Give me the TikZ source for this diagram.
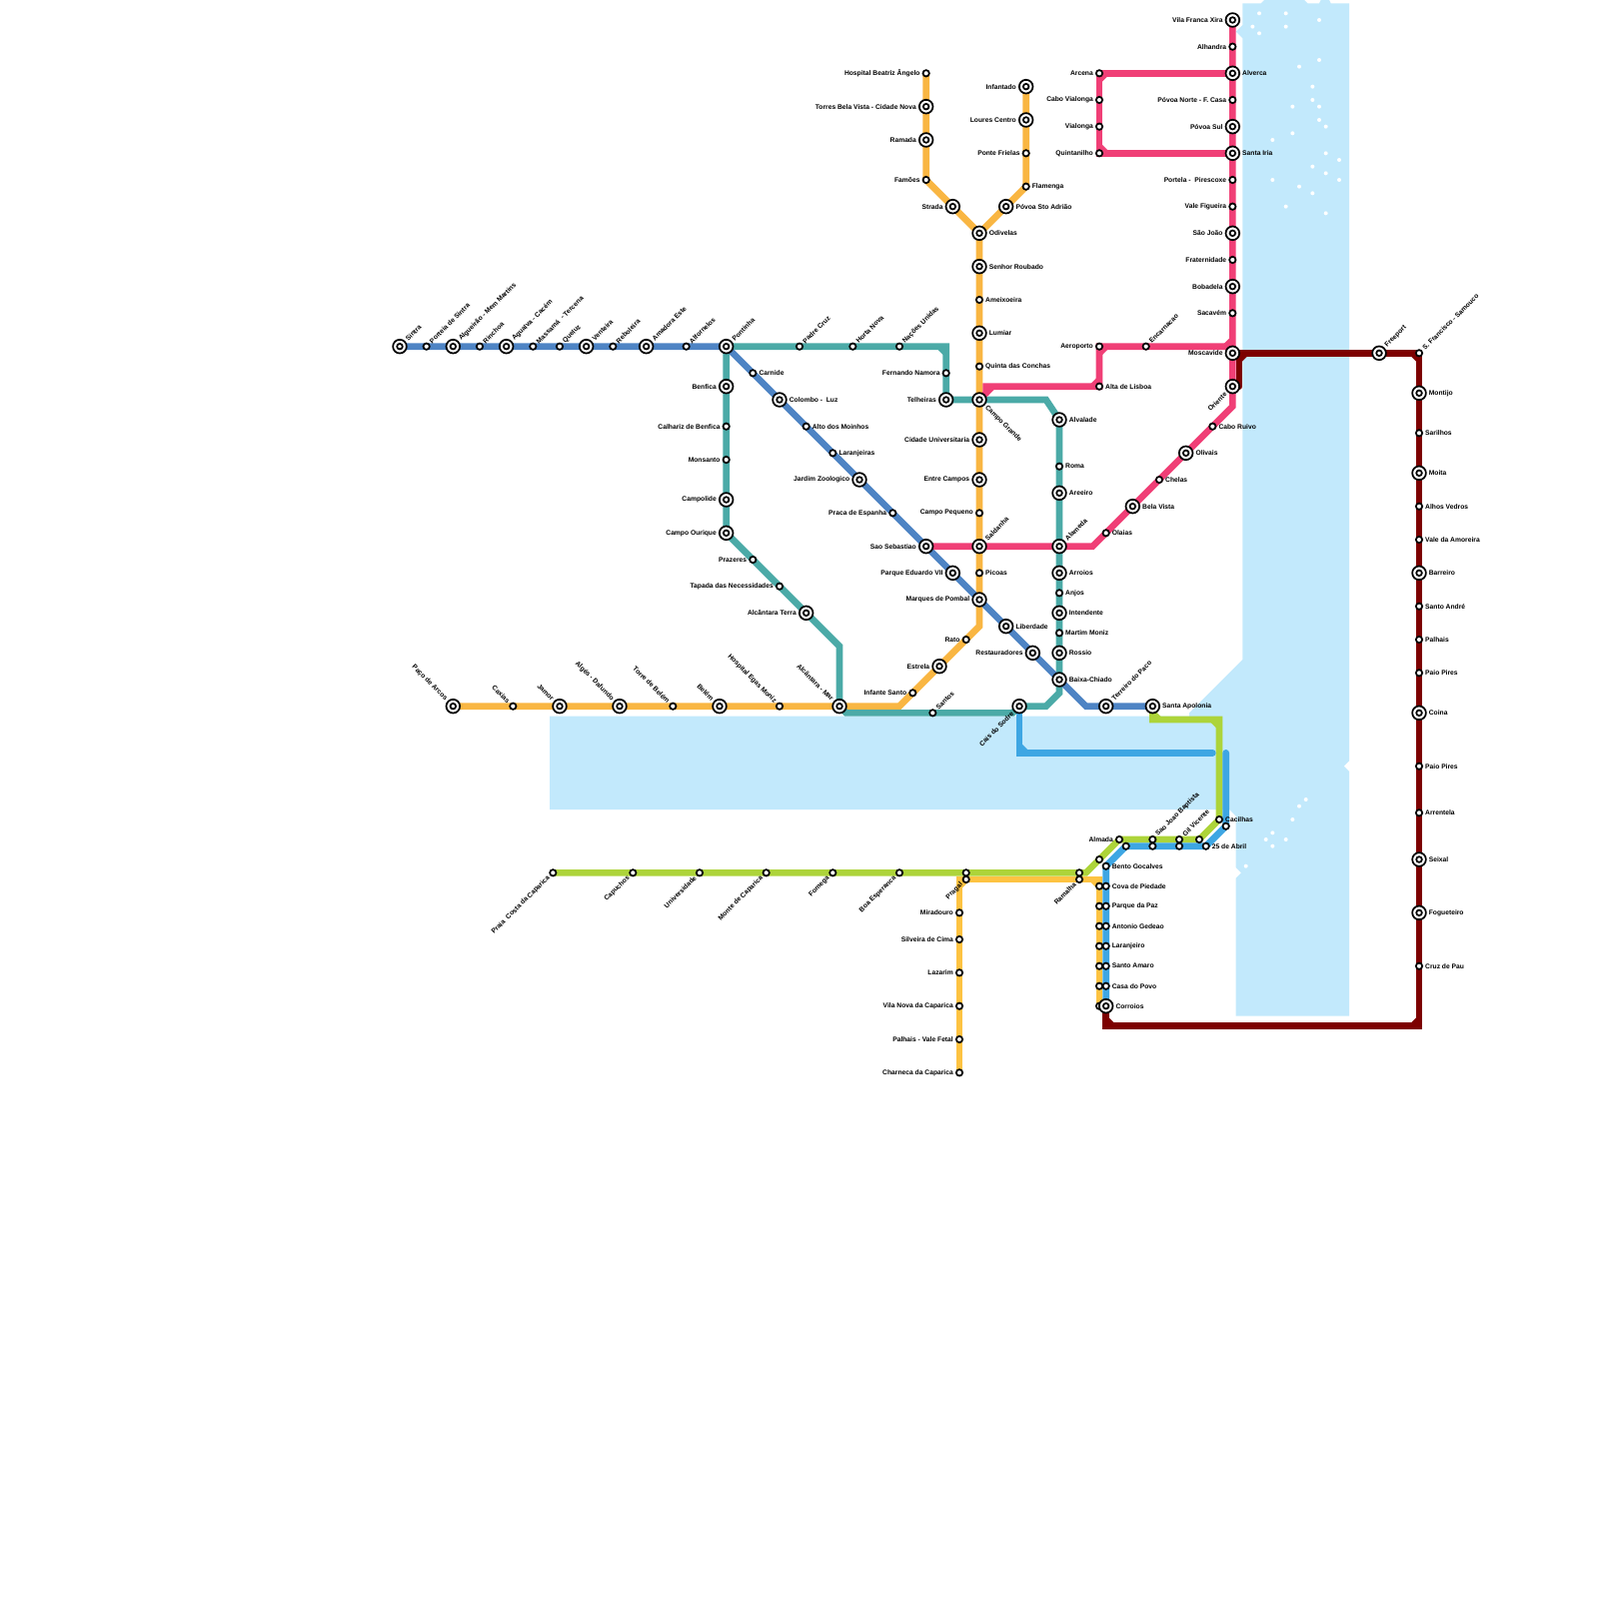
\documentclass[tikz,border=0pt]{standalone}
\usepackage{fontspec}
\setmainfont{Liberation Sans}
\usetikzlibrary{backgrounds}
\definecolor{waterblue}{HTML}{C2E9FC}
\definecolor{lineyellow}{HTML}{F9B642}
\definecolor{lineyellowb}{HTML}{FDC342}
\definecolor{lineteal}{HTML}{4BAAA7}
\definecolor{lineblue}{HTML}{4E84C4}
\definecolor{linepink}{HTML}{F03F76}
\definecolor{linelime}{HTML}{ADD43A}
\definecolor{linesky}{HTML}{3EA6E3}
\definecolor{linered}{HTML}{7D0000}
\tikzset{
  stn/.style={circle,draw=black,fill=white,line width=.26mm,minimum size=.95mm,inner sep=0pt},
  hub/.style={circle,draw=black,fill=white,line width=.26mm,minimum size=2.05mm,inner sep=0pt,
    path picture={\draw[black,line width=.26mm] (path picture bounding box.center) circle (.42mm);}},
  lbl/.style={font=\bfseries\fontsize{2.87}{3.4}\selectfont,inner sep=.25mm,text=black},
  txte/.style={label={[lbl,anchor=west]0:#1}},
  txtw/.style={label={[lbl,anchor=east]180:#1}},
  txtne/.style={label={[lbl,rotate=45,anchor=west]45:#1}},
  txtnw/.style={label={[lbl,rotate=-45,anchor=east]135:#1}},
  txtse/.style={label={[lbl,rotate=-45,anchor=west]-45:#1}},
  txtsw/.style={label={[lbl,rotate=45,anchor=east]225:#1}},
  route/.style={line width=1mm,line join=miter,line cap=round},
}
\begin{document}
\begin{tikzpicture}[x=1mm,y=-1mm]
  \useasboundingbox (0,0) rectangle (240,240);

  % Stations with their label to the right
  \foreach \nm/\st/\x/\y/\txt in {
    carnide/stn/113/56/Carnide, colombo/hub/117/60/{Colombo -\ \ Luz}, moinhos/stn/121/64/Alto dos Moinhos,
    laranjeiras/stn/125/68/Laranjeiras, liberdade/hub/151/94/Liberdade, baixa/hub/159/102/Baixa-Chiado,
    apolonia/hub/173/106/Santa Apolonia, conchas/stn/147/55/Quinta das Conchas, lumiar/hub/147/50/Lumiar,
    ameixoeira/stn/147/45/Ameixoeira, senhor/hub/147/40/Senhor Roubado, odivelas/hub/147/35/Odivelas,
    povoasto/hub/151/31/Póvoa Sto Adrião, flamenga/stn/154/28/Flamenga, picoas/stn/147/86/Picoas,
    alvalade/hub/159/63/Alvalade, roma/stn/159/70/Roma, areeiro/hub/159/74/Areeiro, arroios/hub/159/86/Arroios,
    anjos/stn/159/89/Anjos, intendente/hub/159/92/Intendente, martim/stn/159/95/Martim Moniz, rossio/hub/159/98/Rossio,
    olaias/stn/166/80/Olaias, belavista/hub/170/76/Bela Vista, chelas/stn/174/72/Chelas, olivais/hub/178/68/Olivais,
    caboruivo/stn/182/64/Cabo Ruivo, altalisboa/stn/165/58/Alta de Lisboa, alverca/hub/185/11/Alverca,
    santairia/hub/185/23/Santa Iria, montijo/hub/213/59/Montijo, sarilhos/stn/213/65/Sarilhos, moita/hub/213/71/Moita,
    alhos/stn/213/76/Alhos Vedros, amoreira/stn/213/81/Vale da Amoreira, barreiro/hub/213/86/Barreiro,
    santoandre/stn/213/91/Santo André, palhais/stn/213/96/Palhais, paiopiresa/stn/213/101/Paio Pires, coina/hub/213/107/Coina,
    paiopiresb/stn/213/115/Paio Pires, arrentela/stn/213/122/Arrentela, seixal/hub/213/129/Seixal,
    fogueteiro/hub/213/137/Fogueteiro, cruzpau/stn/213/145/Cruz de Pau, cacilhas/stn/183/123/Cacilhas,
    abril/stn/181/127/25 de Abril, bento/stn/166/130/Bento Gocalves, cova/stn/166/133/Cova de Piedade,
    parquepaz/stn/166/136/Parque da Paz, gedeao/stn/166/139/Antonio Gedeao, laranjeiro/stn/166/142/Laranjeiro,
    amaro/stn/166/145/Santo Amaro, casapovo/stn/166/148/Casa do Povo}
    {\node[\st,txte={\txt}] (\nm) at (\x,\y) {};}

  % Stations with their label to the left
  \foreach \nm/\st/\x/\y/\txt in {
    benfica/hub/109/58/Benfica, calhariz/stn/109/64/Calhariz de Benfica, monsanto/stn/109/69/Monsanto,
    campolide/hub/109/75/Campolide, ourique/hub/109/80/Campo Ourique, prazeres/stn/113/84/Prazeres,
    tapada/stn/117/88/Tapada das Necessidades, alcterra/hub/121/92/Alcântara Terra, jardim/hub/129/72/Jardim Zoologico,
    espanha/stn/134/77/Praca de Espanha, sebastiao/hub/139/82/Sao Sebastiao, eduardo/hub/143/86/Parque Eduardo VII,
    marques/hub/147/90/Marques de Pombal, restauradores/hub/155/98/Restauradores, namora/stn/142/56/Fernando Namora,
    telheiras/hub/142/60/Telheiras, cidadeuni/hub/147/66/Cidade Universitaria, entrecampos/hub/147/72/Entre Campos,
    campopequeno/stn/147/77/Campo Pequeno, rato/stn/145/96/Rato, estrela/hub/141/100/Estrela, infante/stn/137/104/Infante Santo,
    beatriz/stn/139/11/Hospital Beatriz Ângelo, torres/hub/139/16/Torres Bela Vista - Cidade Nova, ramada/hub/139/21/Ramada,
    famoes/stn/139/27/Famões, strada/hub/143/31/Strada, infantado/hub/154/13/Infantado, loures/hub/154/18/Loures Centro,
    frielas/stn/154/23/Ponte Frielas, arcena/stn/165/11/Arcena, cabovial/stn/165/15/Cabo Vialonga, vialonga/stn/165/19/Vialonga,
    quintanilho/stn/165/23/Quintanilho, aeroporto/stn/165/52/Aeroporto, franca/hub/185/3/Vila Franca Xira, alhandra/stn/185/7/Alhandra,
    povoanorte/stn/185/15/Póvoa Norte - F. Casa, povoasul/hub/185/19/Póvoa Sul, portela/stn/185/27/{Portela -\ \ Pirescoxe},
    figueira/stn/185/31/Vale Figueira, saojoao/hub/185/35/São João, fraternidade/stn/185/39/Fraternidade, bobadela/hub/185/43/Bobadela,
    sacavem/stn/185/47/Sacavém, moscavide/hub/185/53/Moscavide, almada/stn/168/126/Almada, miradouro/stn/144/137/Miradouro,
    silveira/stn/144/141/Silveira de Cima, lazarim/stn/144/146/Lazarim, vilanova/stn/144/151/Vila Nova da Caparica,
    palhaisfetal/stn/144/156/Palhais - Vale Fetal, charneca/stn/144/161/Charneca da Caparica}
    {\node[\st,txtw={\txt}] (\nm) at (\x,\y) {};}

  % Stations with a slanted label
  \foreach \nm/\st/\x/\y/\txt in {
    sintra/hub/60/52/Sintra, porteia/stn/64/52/Porteia de Sintra, algueirao/hub/68/52/Algueirão - Mem Martins, rinchoa/stn/72/52/Rinchoa,
    agualva/hub/76/52/Agualva - Cacém, massama/stn/80/52/{Massamá\ \ - Tercena}, queluz/stn/84/52/Queluz, venteira/hub/88/52/Venteira,
    reboleira/stn/92/52/Reboleira, amadora/hub/97/52/Amadora Este, alfornelos/stn/103/52/Alfornelos, pontinha/hub/109/52/Pontinha,
    padrecruz/stn/120/52/Padre Cruz, hortanova/stn/128/52/Horta Nova, nacoes/stn/135/52/Nações Unidas, encarnacao/stn/172/52/Encarnacao,
    freeport/hub/207/53/Freeport, francisco/stn/213/53/S. Francisco - Samouco, terreiro/hub/166/106/Terreiro do Paco,
    saldanha/hub/147/82/Saldanha, alameda/hub/159/82/Alameda, santos/stn/140/107/Santos, joaob/stn/173/126/Sao Joao Baptista,
    gil/stn/177/126/Gil Vicente}
    {\node[\st,txtne={\txt}] (\nm) at (\x,\y) {};}
  \foreach \nm/\st/\x/\y/\txt in {
    paco/hub/68/106/Paço de Arcos, caxias/stn/77/106/Caxias, jamor/hub/84/106/Jamor, alges/hub/93/106/Algés - Dafundo,
    torrebelem/stn/101/106/Torre de Belém, belem/hub/108/106/Belém, egas/stn/117/106/Hospital Egas Moniz, alcmar/hub/126/106/Alcântara - Mar}
    {\node[\st,txtnw={\txt}] (\nm) at (\x,\y) {};}
  \foreach \nm/\st/\x/\y/\txt in {
    praia/stn/83/131/{Praia\ \ Costa da Caparica}, capuchos/stn/95/131/Capuchos, universidade/stn/105/131/Universidade,
    montecap/stn/115/131/Monte de Caparica, fomega/stn/125/131/Fomega, boaesp/stn/135/131/Boa Esperanca, pragal/stn/145/132/Pragal,
    ramalha/stn/162/132/Ramalha, cais/hub/153/106/Cais do Sodre, oriente/hub/185/58/Oriente}
    {\node[\st,txtsw={\txt}] (\nm) at (\x,\y) {};}
  \node[hub,txtse={Campo Grande}] (campogrande) at (147,60) {};

  % Stations with no label
  \foreach \nm/\x/\y in {pragalb/145/131, ramalhab/162/131, transb/165/129, gilc/180/126, cacilhasb/184/124, almadab/169/127,
    joaoc/173/127, gilb/177/127, covab/165/133, parquepazb/165/136, gedeaob/165/139, laranjeirob/165/142, amarob/165/145,
    casapovob/165/148, corroiosb/165/151}
    {\node[stn] (\nm) at (\x,\y) {};}
  \node[hub,txte={Corroios}] (corroios) at (166,151) {};

  % Bends
  \foreach \nm/\x/\y in {bendyb/147/94, bendya/135/106, bendta/142/52, bendtb/157/60, bendtc/159/104, bendtd/157/106, bendte/127/107,
    bendtf/126/97, bendtg/152/107, bendba/163/106, bendpa/164/82, bendpb/185/61, bendpc/185/52, bendpd/148/59, bendpe/148/58,
    bendla/173/108, bendlb/183/108, bendlc/163/131, bendsa/153/113, bendsb/182/113, bendsc/184/113,
    bendra/186/53, bendrb/186/58, bendrc/213/154, bendrd/166/154, bendye/144/132, bendyf/165/132}
    {\coordinate (\nm) at (\x,\y);}

  \begin{scope}[on background layer]
    % Water
    \fill[waterblue] (186.5,.5) -- (189.25,.5) -- (189.75,0) -- (195.75,0) -- (196.25,.5) -- (198,.5) -- (198.25,0) -- (199.5,0)
      -- (199.75,.5) -- (202.5,.5) -- (202.5,114.2) -- (201.7,115) -- (202.5,115.8) -- (202.5,152.5) -- (185.5,152.5)
      -- (185.5,131.8) -- (186.3,131) -- (185.5,130.2) -- (185.5,122.5) -- (184.5,121.5) -- (82.5,121.5) -- (82.5,107.5)
      -- (178.5,107.5) -- (178.5,107) -- (186.5,99) -- (186.5,5.75) -- (185.5,4.75) -- (186.5,3.75) -- cycle;
    \foreach \x/\y in {189/2,193/2,198/3,188/4,193/4,189/5,198/9,195/10,197/13,197/15,194/16,198/16,198/18,199/19,194/20,191/21,
      199/23,201/24,197/25,199/26,191/27,201/27,195/28,197/29,193/31,199/32,196/120,195/121,194/123,191/125,190/126,193/126,191/127,187/130}
      {\fill[white] (\x,\y) circle (.3);}

    % Yellow lines
    \draw[route,lineyellow] (beatriz.center) -- (torres.center) -- (ramada.center) -- (famoes.center) -- (strada.center) -- (odivelas.center);
    \draw[route,lineyellow] (infantado.center) -- (loures.center) -- (frielas.center) -- (flamenga.center) -- (povoasto.center) -- (odivelas.center);
    \draw[route,lineyellow] (odivelas.center) -- (marques.center) -- (bendyb) -- (bendya) -- (paco.center);
    \draw[route,lineyellowb] (charneca.center) -- (bendye) -- (bendyf) -- (covab.center) -- (corroiosb.center);

    % Teal line
    \draw[route,lineteal] (pontinha.center) -- (bendta) -- (telheiras.center) -- (campogrande.center) -- (bendtb) -- (alvalade.center) -- (bendtc)
      -- (bendtd) -- (cais.center) -- (bendtg) -- (santos.center) -- (bendte) -- (alcmar.center) -- (bendtf) -- (alcterra.center) -- (ourique.center) -- (pontinha.center);

    % Blue line
    \draw[route,lineblue] (sintra.center) -- (pontinha.center) -- (bendba) -- (apolonia.center);

    % Pink line
    \draw[route,linepink] (sebastiao.center) -- (bendpa) -- (bendpb) -- (franca.center);
    \draw[route,linepink] (campogrande.center) -- (bendpd) -- (bendpe) -- (altalisboa.center) -- (aeroporto.center) -- (bendpc);
    \draw[route,linepink] (alverca.center) -- (arcena.center) -- (quintanilho.center) -- (santairia.center);

    % Lime line
    \draw[route,linelime] (apolonia.center) -- (bendla) -- (bendlb) -- (cacilhas.center) -- (gilc.center) -- (almada.center) -- (bendlc) -- (praia.center);

    % Sky line
    \draw[route,linesky] (cais.center) -- (bendsa) -- (bendsb);
    \draw[route,linesky] (bendsc) -- (cacilhasb.center) -- (abril.center) -- (almadab.center) -- (bento.center) -- (corroios.center);

    % Red line
    \draw[route,linered] (bendrb) -- (bendra) -- (moscavide.center) -- (bendra) -- (francisco.center) -- (bendrc) -- (bendrd) -- (corroios.center);

    % Inner corners
    \foreach \c/\xa/\ya/\xb/\yb in {linepink/164/58/165/57, linepink/165/53/166/52, linepink/165/12/166/11, linepink/165/22/166/23,
      linepink/184/52/185/51, linepink/148/59/149/58, lineteal/141/52/142/53, lineyellowb/144/133/145/132, lineyellowb/164/132/165/133,
      linelime/182/108/183/109, linelime/173/107/174/108, linesky/153/112/154/113, linered/186/54/187/53, linered/212/53/213/54,
      linered/212/154/213/153, linered/166/153/167/154}
      {\draw[line width=1mm,\c] (\xa,\ya) -- (\xb,\yb);}
  \end{scope}
\end{tikzpicture}
\end{document}
